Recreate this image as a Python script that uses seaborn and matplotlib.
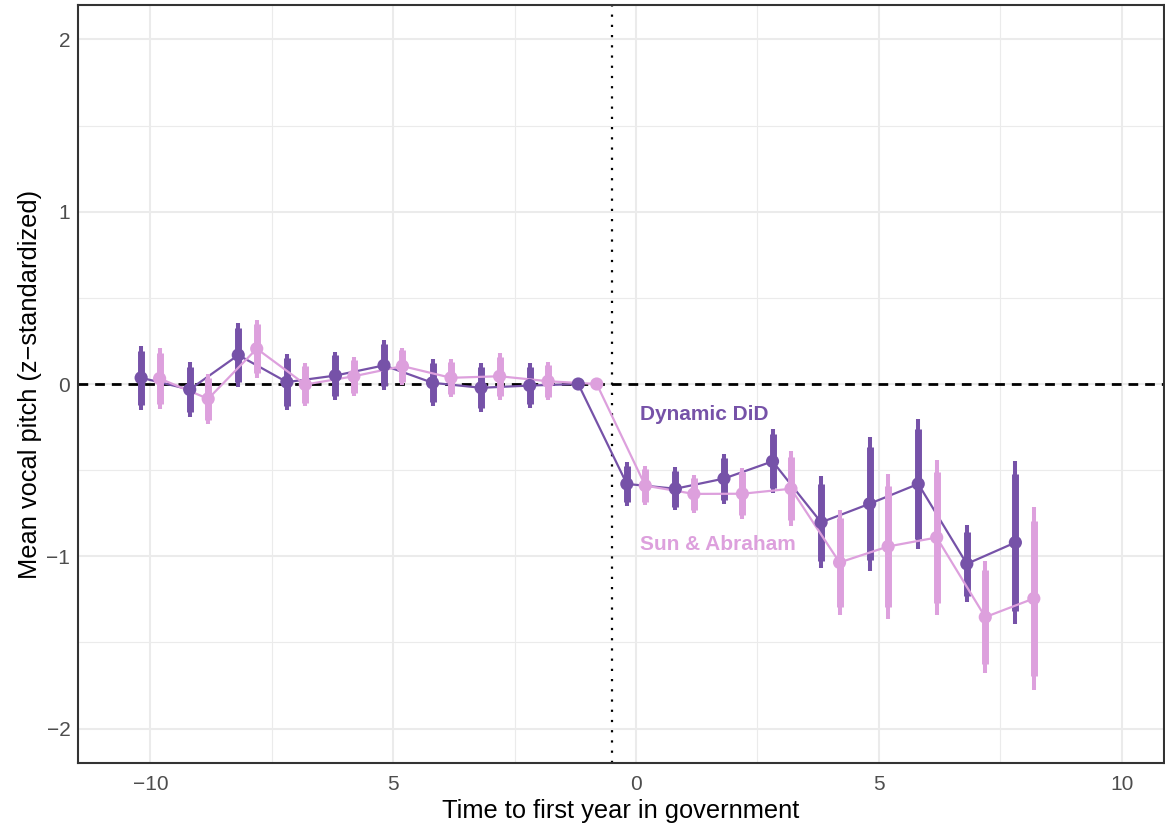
import numpy as np
import pandas as pd
import matplotlib
matplotlib.use("Agg")
import matplotlib.pyplot as plt
from matplotlib.ticker import MultipleLocator
import seaborn as sns

# ---- data ----
time = list(range(-10, 9))
did_est = [0.036, -0.032, 0.168, 0.011, 0.049, 0.108, 0.007, -0.022, -0.009, 0.0,
           -0.580, -0.608, -0.549, -0.449, -0.803, -0.695, -0.580, -1.044, -0.920]
did_se = [0.095, 0.081, 0.094, 0.084, 0.071, 0.074, 0.069, 0.073, 0.066, 0.0,
          0.064, 0.064, 0.074, 0.095, 0.136, 0.199, 0.193, 0.114, 0.240]
sa_est = [0.032, -0.086, 0.205, -0.003, 0.045, 0.104, 0.036, 0.045, 0.016, 0.0,
          -0.590, -0.638, -0.637, -0.608, -1.036, -0.943, -0.891, -1.353, -1.245]
sa_se = [0.091, 0.074, 0.086, 0.064, 0.058, 0.055, 0.056, 0.069, 0.056, 0.0,
         0.058, 0.056, 0.076, 0.111, 0.156, 0.214, 0.230, 0.165, 0.272]
methods = ["Dynamic DiD", "Sun & Abraham"]
colors = {"Dynamic DiD": "#7652A8", "Sun & Abraham": "#DDA0DD"}
offsets = {"Dynamic DiD": -0.19, "Sun & Abraham": 0.19}
xticks = [-10, -5, 0, 5, 10]
xticklabels = ["\u221210", "5", "0", "5", "10"]
yticks = [-2, -1, 0, 1, 2]
yticklabels = ["\u22122", "\u22121", "0", "1", "2"]

rows = []
for m, est, se in [(methods[0], did_est, did_se), (methods[1], sa_est, sa_se)]:
    for t, e, s in zip(time, est, se):
        rows.append(dict(time=t, est=e, se=s, method=m))
df = pd.DataFrame(rows)
df["x"] = df["time"] + df["method"].map(offsets)
df["lo95"] = df["est"] - 1.96 * df["se"]
df["hi95"] = df["est"] + 1.96 * df["se"]
df["lo90"] = df["est"] - 1.645 * df["se"]
df["hi90"] = df["est"] + 1.645 * df["se"]

sns.set_theme(style="whitegrid")
plt.rcParams["font.family"] = ["Liberation Sans", "DejaVu Sans"]

fig = plt.figure(figsize=(11.65, 8.26), dpi=100)
ax = fig.add_axes([78 / 1165, 63 / 826, (1165 - 79) / 1165, (763 - 5) / 826])

# reference lines
ax.axhline(0, color="black", lw=2.0, ls=(0, (3.5, 2.5)), zorder=1.5)
ax.axvline(-0.5, color="black", lw=1.6, ls=(0, (1, 3.6)), zorder=1.5)

for m in methods:
    d = df[df["method"] == m]
    c = colors[m]
    sub = d[d["se"] > 0]
    ax.vlines(sub["x"], sub["lo95"], sub["hi95"], color=c, lw=2.9, zorder=3)
    ax.vlines(sub["x"], sub["lo90"], sub["hi90"], color=c, lw=5.0, zorder=3)
    sns.lineplot(data=d, x="x", y="est", color=c, lw=1.6, ax=ax,
                 estimator=None, sort=True, zorder=3, legend=False)
    sns.scatterplot(data=d, x="x", y="est", color=c, s=90, edgecolor="none",
                    ax=ax, zorder=4, legend=False)

ax.text(0.09, -0.21, "Dynamic DiD", color=colors["Dynamic DiD"], fontsize=15,
        fontweight="bold", ha="left", va="baseline")
ax.text(0.09, -0.966, "Sun & Abraham", color=colors["Sun & Abraham"], fontsize=15,
        fontweight="bold", ha="left", va="baseline")

ax.set_xlim(-11.49, 10.87)
ax.set_ylim(-2.2, 2.2)
ax.set_xticks(xticks)
ax.set_xticklabels(xticklabels)
ax.set_yticks(yticks)
ax.set_yticklabels(yticklabels)
ax.xaxis.set_minor_locator(MultipleLocator(2.5))
ax.yaxis.set_minor_locator(MultipleLocator(0.5))
ax.grid(which="major", color="#EBEBEB", lw=1.5)
ax.grid(which="minor", color="#EBEBEB", lw=0.8)
ax.set_axisbelow(True)
ax.tick_params(axis="both", which="both", length=0, labelsize=15, labelcolor="#4D4D4D")
ax.tick_params(axis="x", pad=8.5)
ax.tick_params(axis="y", pad=5.5)
for sp in ax.spines.values():
    sp.set_visible(True)
    sp.set_color("#333333")
    sp.set_linewidth(1.5)

ax.set_xlabel("Time to first year in government", fontsize=18.3, color="black", labelpad=4)
ax.set_ylabel("Mean vocal pitch (z\u2212standardized)", fontsize=18.3, color="black", labelpad=3)

fig.savefig("out.png", dpi=100, facecolor="white")
